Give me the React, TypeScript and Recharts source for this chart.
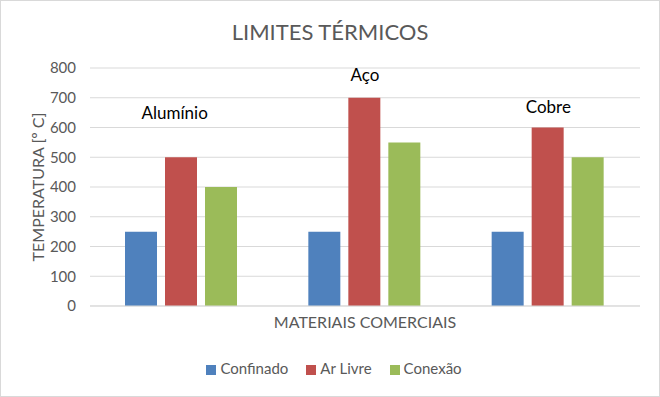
import { BarChart, Bar, XAxis, YAxis, CartesianGrid, Legend, ReferenceDot } from 'recharts'

const materials = ['Alumínio', 'Aço', 'Cobre']
const confinado = [250, 250, 250]
const arLivre = [500, 700, 600]
const conexao = [400, 550, 500]
const yTicks = [0, 100, 200, 300, 400, 500, 600, 700, 800]

// text boxes over each group, height given in axis units
const materialLabelHeights = [650, 775, 670]

const FONT = 'Lato, "Open Sans", sans-serif'
const GREY = '#595959'

const chartData = materials.map((name, i) => ({
  name,
  confinado: confinado[i],
  arLivre: arLivre[i],
  conexao: conexao[i],
}))

const seriesOrder = ['confinado', 'arLivre', 'conexao']
const seriesNames: Record<string, string> = {
  confinado: 'Confinado',
  arLivre: 'Ar Livre',
  conexao: 'Conexão',
}

export default function App() {
  return (
    <div
      style={{
        position: 'fixed',
        left: 0,
        top: 0,
        width: 660,
        height: 397,
        background: '#fff',
        border: '1px solid #d9d9d9',
        boxSizing: 'border-box',
        fontFamily: FONT,
      }}
    >
      <div
        style={{
          position: 'absolute',
          top: 17,
          left: 0,
          width: 658,
          textAlign: 'center',
          fontSize: 22,
          color: GREY,
        }}
      >
        LIMITES TÉRMICOS
      </div>
      <BarChart
        width={658}
        height={395}
        data={chartData}
        margin={{ top: 67, right: 19, left: 0, bottom: 38 }}
        barCategoryGap={35}
        barGap={8}
        style={{ position: 'absolute', left: 0, top: 0 }}
      >
        <CartesianGrid vertical={false} stroke="#d9d9d9" />
        <XAxis
          dataKey="name"
          tick={false}
          tickLine={false}
          axisLine={{ stroke: '#d9d9d9' }}
          height={30}
          label={{ value: 'MATERIAIS COMERCIAIS', position: 'insideBottom', offset: 8, fill: GREY, fontSize: 16, fontFamily: FONT }}
        />
        <YAxis
          domain={[0, 800]}
          ticks={yTicks}
          width={89}
          axisLine={false}
          tickLine={false}
          tickSize={0}
          tickMargin={14}
          tick={{ fill: GREY, fontSize: 15, fontFamily: FONT }}
          label={{
            value: 'TEMPERATURA [º C]',
            angle: -90,
            position: 'insideLeft',
            offset: 37,
            fill: GREY,
            fontSize: 16,
            fontFamily: FONT,
            style: { textAnchor: 'middle' },
          }}
        />
        <Legend
          verticalAlign="bottom"
          iconType="square"
          iconSize={10}
          itemSorter={(item) => seriesOrder.indexOf(String(item.dataKey))}
          wrapperStyle={{ top: 358, bottom: 'auto', left: 13, width: 658, height: 22, fontFamily: FONT, fontSize: 15 }}
          formatter={(value) => (
            <span style={{ color: GREY, marginRight: 8 }}>{seriesNames[value as string] ?? value}</span>
          )}
        />
        <Bar dataKey="confinado" fill="#4F81BD" isAnimationActive={false} />
        <Bar dataKey="arLivre" fill="#C0504D" isAnimationActive={false} />
        <Bar dataKey="conexao" fill="#9BBB59" isAnimationActive={false} />
        {materials.map((m, i) => (
          <ReferenceDot
            key={m}
            x={m}
            y={materialLabelHeights[i]}
            r={0}
            fill="none"
            stroke="none"
            label={{ value: m, position: 'center', dx: i === 0 ? -7 : 0, fill: '#000', fontSize: 17, fontFamily: FONT }}
          />
        ))}
      </BarChart>
    </div>
  )
}
